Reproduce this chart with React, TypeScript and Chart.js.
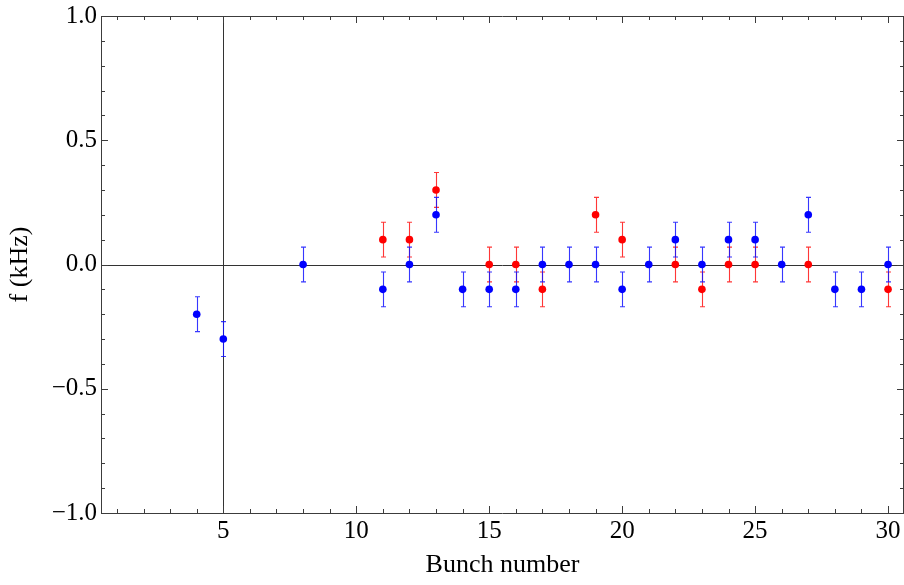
import React, { useEffect, useRef } from "react";
import { Chart, registerables } from "chart.js";

Chart.register(...registerables);

// Measured betatron frequency shift per bunch, two measurement runs
const blueBunches = [4, 5, 8, 11, 12, 13, 14, 15, 16, 17, 18, 19, 20, 21, 22, 23, 24, 25, 26, 27, 28, 29, 30];
const blueShift = [-0.2, -0.3, 0, -0.1, 0, 0.2, -0.1, -0.1, -0.1, 0, 0, 0, -0.1, 0, 0.1, 0, 0.1, 0.1, 0, 0.2, -0.1, -0.1, 0];
const redBunches = [11, 12, 13, 15, 16, 17, 19, 20, 22, 23, 24, 25, 27, 30];
const redShift = [0.1, 0.1, 0.3, 0, 0, -0.1, 0.2, 0.1, 0, -0.1, 0, 0, 0, -0.1];
const shiftError = 0.07;

const xTickValues = [5, 10, 15, 20, 25, 30];
const yTickValues = [-1, -0.5, 0, 0.5, 1];
const xRange = [0.4, 30.6];
const yRange = [-1, 1];
const axisOriginX = 5;

const SERIF = "'Liberation Serif', 'DejaVu Serif', serif";
const FRAME = "#3c3c3c";
const BLUE = "#0000ff";
const RED = "#ff0000";
const BLUE_BAR = "rgba(20,20,255,0.85)";
const RED_BAR = "rgba(255,20,20,0.85)";

const toPoints = (xs: number[], ys: number[]) => xs.map((x, i) => ({ x, y: ys[i] }));
const noPadding = () => ({ left: 0, top: 0, right: 0, bottom: 0 });

const errorBarsPlugin = {
  id: "errorBars",
  beforeDatasetsDraw(chart: any) {
    const { ctx, chartArea, scales } = chart;
    const xs = scales.x;
    const ys = scales.y;
    ctx.save();
    // axis lines through the origin (x = 5, y = 0)
    ctx.strokeStyle = "#333";
    ctx.lineWidth = 1;
    ctx.beginPath();
    const y0 = Math.round(ys.getPixelForValue(0)) + 0.5;
    ctx.moveTo(chartArea.left, y0);
    ctx.lineTo(chartArea.right, y0);
    const x0 = Math.round(xs.getPixelForValue(axisOriginX)) + 0.5;
    ctx.moveTo(x0, chartArea.top);
    ctx.lineTo(x0, chartArea.bottom);
    ctx.stroke();

    const bars = [
      { xs: redBunches, ys: redShift, color: RED_BAR },
      { xs: blueBunches, ys: blueShift, color: BLUE_BAR },
    ];
    const cap = 2.5;
    for (const b of bars) {
      ctx.strokeStyle = b.color;
      ctx.lineWidth = 1.1;
      ctx.beginPath();
      b.xs.forEach((xv, i) => {
        const px = Math.round(xs.getPixelForValue(xv)) + 0.5;
        const top = ys.getPixelForValue(b.ys[i] + shiftError);
        const bot = ys.getPixelForValue(b.ys[i] - shiftError);
        ctx.moveTo(px, top);
        ctx.lineTo(px, bot);
        ctx.moveTo(px - cap, top);
        ctx.lineTo(px + cap, top);
        ctx.moveTo(px - cap, bot);
        ctx.lineTo(px + cap, bot);
      });
      ctx.stroke();
    }
    ctx.restore();
  },
};

const frameTicksPlugin = {
  id: "frameTicks",
  afterDatasetsDraw(chart: any) {
    const { ctx, chartArea, scales } = chart;
    const xs = scales.x;
    const ys = scales.y;
    const { left, right, top, bottom } = chartArea;
    ctx.save();
    ctx.strokeStyle = FRAME;
    ctx.lineWidth = 1;
    ctx.beginPath();
    ctx.rect(left + 0.5, top + 0.5, right - left - 1, bottom - top);
    ctx.stroke();

    ctx.beginPath();
    for (let v = 1; v <= 30; v++) {
      const len = v % 5 === 0 ? 7 : 4;
      const px = Math.round(xs.getPixelForValue(v)) + 0.5;
      ctx.moveTo(px, bottom);
      ctx.lineTo(px, bottom - len);
      ctx.moveTo(px, top);
      ctx.lineTo(px, top + len);
    }
    for (let k = -10; k <= 10; k++) {
      const v = k / 10;
      const len = k % 5 === 0 ? 7 : 4;
      const py = Math.round(ys.getPixelForValue(v)) + 0.5;
      ctx.moveTo(left, py);
      ctx.lineTo(left + len, py);
      ctx.moveTo(right, py);
      ctx.lineTo(right - len, py);
    }
    ctx.stroke();
    ctx.restore();
  },
};

export default function App() {
  const canvasRef = useRef<HTMLCanvasElement | null>(null);

  useEffect(() => {
    const canvas = canvasRef.current;
    if (!canvas) return;
    const chart = new Chart(canvas, {
      type: "scatter",
      data: {
        datasets: [
          {
            label: "run 2",
            data: toPoints(redBunches, redShift),
            backgroundColor: RED,
            borderWidth: 0,
            pointRadius: 3.8,
          },
          {
            label: "run 1",
            data: toPoints(blueBunches, blueShift),
            backgroundColor: BLUE,
            borderWidth: 0,
            pointRadius: 3.8,
          },
        ],
      },
      options: {
        responsive: false,
        animation: false,
        events: [],
        layout: { autoPadding: false, padding: { top: 16, right: -3, left: 0, bottom: 0 } },
        plugins: { legend: { display: false }, tooltip: { enabled: false } },
        scales: {
          x: {
            type: "linear",
            min: xRange[0],
            max: xRange[1],
            grid: { display: false, drawTicks: false },
            border: { display: false },
            afterBuildTicks: (s: any) => {
              s.ticks = xTickValues.map((value) => ({ value }));
            },
            afterFit: (s: any) => {
              s.height = 72;
              s.paddingLeft = 0;
              s.paddingRight = 0;
              s.getPadding = noPadding;
            },
            ticks: {
              autoSkip: false,
              maxRotation: 0,
              padding: 3,
              color: "#000",
              font: { family: SERIF, size: 25 },
              callback: (v: any) => String(v),
            },
            title: {
              display: true,
              text: "Bunch number",
              color: "#000",
              font: { family: SERIF, size: 26 },
              padding: { top: 0, bottom: 4 },
            },
          },
          y: {
            type: "linear",
            min: yRange[0],
            max: yRange[1],
            grid: { display: false, drawTicks: false },
            border: { display: false },
            afterBuildTicks: (s: any) => {
              s.ticks = yTickValues.map((value) => ({ value }));
            },
            afterFit: (s: any) => {
              s.width = 101;
              s.paddingTop = 0;
              s.paddingBottom = 0;
              s.getPadding = noPadding;
            },
            ticks: {
              autoSkip: false,
              padding: 4,
              color: "#000",
              font: { family: SERIF, size: 25 },
              callback: (v: any) => {
                const n = Number(v);
                return (n < 0 ? "\u2212" : "") + Math.abs(n).toFixed(1);
              },
            },
            title: {
              display: true,
              text: "f (kHz)",
              color: "#000",
              font: { family: SERIF, size: 26 },
              padding: { top: 5, bottom: 0 },
            },
          },
        },
      },
      plugins: [errorBarsPlugin, frameTicksPlugin],
    });
    return () => chart.destroy();
  }, []);

  return (
    <div style={{ position: "fixed", top: 0, left: 0, width: 904, height: 585, background: "#fff" }}>
      <canvas ref={canvasRef} width={904} height={585} style={{ display: "block" }} />
    </div>
  );
}
